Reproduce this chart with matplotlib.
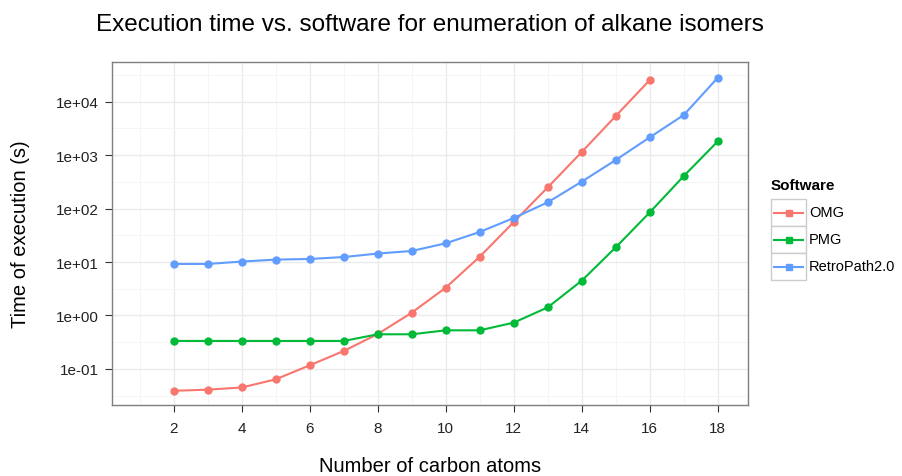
import matplotlib
matplotlib.use("Agg")
from matplotlib import pyplot as plt
from matplotlib.lines import Line2D
from matplotlib.patches import Rectangle
from matplotlib.ticker import FixedLocator, FuncFormatter
import numpy as np

plt.rcParams['font.family'] = ['Liberation Sans', 'DejaVu Sans']

# carbon atom counts per software
omg_n = [2, 3, 4, 5, 6, 7, 8, 9, 10, 11, 12, 13, 14, 15, 16]
omg_t = [0.039, 0.041, 0.045, 0.064, 0.117, 0.217, 0.45, 1.13, 3.32, 12.6, 56, 250, 1145, 5400, 25400]

pmg_n = [2, 3, 4, 5, 6, 7, 8, 9, 10, 11, 12, 13, 14, 15, 16, 17, 18]
pmg_t = [0.334, 0.334, 0.334, 0.334, 0.334, 0.334, 0.445, 0.445, 0.528, 0.528, 0.736, 1.42, 4.49, 18.9, 85, 407, 1811]

rp_n = [2, 3, 4, 5, 6, 7, 8, 9, 10, 11, 12, 13, 14, 15, 16, 17, 18]
rp_t = [9.2, 9.2, 10.2, 11.1, 11.4, 12.4, 14.4, 16.1, 22.4, 36.5, 66.7, 131, 319, 811, 2153, 5640, 28100]

names = ['OMG', 'PMG', 'RetroPath2.0']
colors = ['#F8766D', '#00BA38', '#619CFF']

W, H = 902, 477
fig = plt.figure(figsize=(W / 100, H / 100), dpi=100)
ax = fig.add_axes([0.124, 0.149, 0.705, 0.719])

series = [(omg_n, omg_t), (pmg_n, pmg_t), (rp_n, rp_t)]
for (n, t), c in zip(series, colors):
    ax.plot(n, t, '-', color=c, lw=1.5, marker='o', ms=5, zorder=3)

ax.set_yscale('log')
ax.set_xlim(0.18, 18.88)
ax.set_ylim(10 ** -1.673, 10 ** 4.742)

ax.xaxis.set_major_locator(FixedLocator(np.arange(2, 19, 2)))
ax.xaxis.set_minor_locator(FixedLocator(np.arange(1, 19, 2)))
ax.yaxis.set_major_locator(FixedLocator([1e-1, 1e0, 1e1, 1e2, 1e3, 1e4]))
ax.yaxis.set_minor_locator(FixedLocator([10 ** (k + 0.5) for k in range(-2, 5)]))
ax.yaxis.set_minor_formatter(FuncFormatter(lambda v, p: ''))
ax.yaxis.set_major_formatter(FuncFormatter(lambda v, p: '%.0e' % v))

ax.grid(which='major', color='#ebebeb', lw=1.0)
ax.grid(which='minor', color='#f4f4f4', lw=0.6)
ax.set_axisbelow(True)
for s in ax.spines.values():
    s.set_color('#7f7f7f')
    s.set_linewidth(1.0)
ax.tick_params(which='major', length=5, color='#333333', labelsize=11, labelcolor='#222222')
ax.tick_params(axis='x', pad=6.5)
ax.tick_params(axis='y', pad=4.3)
ax.tick_params(which='minor', length=0)

ax.set_xlabel('Number of carbon atoms', fontsize=14.5, labelpad=15)
ax.set_ylabel('Time of execution (s)', fontsize=14.5, labelpad=19)
ax.set_title('Execution time vs. software for enumeration of alkane isomers', fontsize=17.5, pad=23)

# legend drawn by hand, ggplot style keys
def fx(px):
    return px / W

def fy(py):
    return 1 - py / H

fig.text(fx(771), fy(186), 'Software', fontsize=11, weight='bold', va='center', ha='left')
key_top = 200
key_h = 27
for i, (name, c) in enumerate(zip(names, colors)):
    top = key_top + i * key_h
    fig.patches.append(Rectangle((fx(771), fy(top + key_h)), fx(806) - fx(771), fy(top) - fy(top + key_h),
                                 transform=fig.transFigure, facecolor='white', edgecolor='#cccccc', lw=1.0))
    yc = fy(top + key_h / 2)
    fig.lines.append(Line2D([fx(774), fx(803)], [yc, yc], transform=fig.transFigure, color=c, lw=1.5))
    fig.lines.append(Line2D([fx(788.5)], [yc], transform=fig.transFigure, color=c, marker='s', ms=4, lw=0))
    fig.text(fx(809), yc, name, fontsize=10.5, va='center', ha='left')

fig.savefig('out.png', dpi=100)
